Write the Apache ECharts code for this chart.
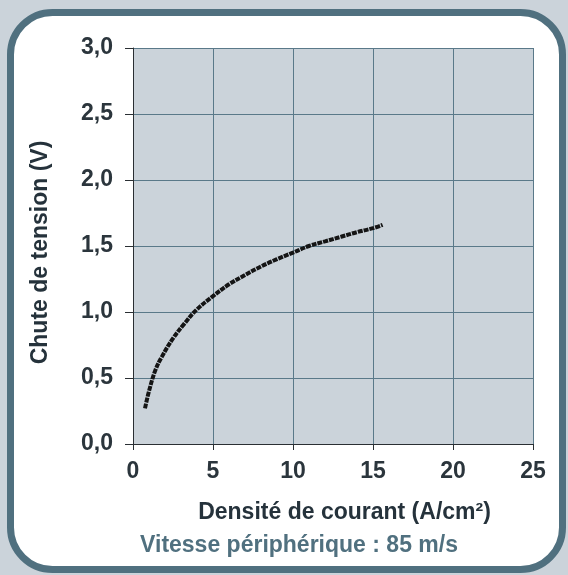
<!DOCTYPE html>
<html>
<head>
<meta charset="utf-8">
<script src="https://cdn.jsdelivr.net/npm/echarts@6/dist/echarts.min.js"></script>
<style>html,body{margin:0;padding:0;background:#cbd3da;}#c{width:568px;height:575px;}</style>
</head>
<body>
<div id="c"></div>
<script>
var densite = [0.75, 1.0, 1.4, 1.8, 2.5, 3.2, 4.0, 5.0, 6.0, 7.0, 8.0, 9.0, 10.0, 11.0, 12.0, 13.0, 14.0, 15.0, 15.6];
var chute   = [0.27, 0.40, 0.56, 0.66, 0.80, 0.91, 1.02, 1.12, 1.21, 1.28, 1.345, 1.40, 1.45, 1.50, 1.535, 1.57, 1.605, 1.635, 1.66];
var xTitle = 'Densité de courant (A/cm²)';
var yTitle = 'Chute de tension (V)';
var subTitle = 'Vitesse périphérique : 85 m/s';

var pts = densite.map(function (x, i) { return [x, chute[i]]; });
var font = 'Liberation Sans, Arial, sans-serif';
var chart = echarts.init(document.getElementById('c'));
chart.setOption({
  backgroundColor: '#cbd3da',
  animation: false,
  graphic: [
    {type: 'rect', z: -10, shape: {x: 10.5, y: 12.5, width: 552, height: 557, r: 42},
     style: {fill: '#ffffff', stroke: '#50707f', lineWidth: 7}},
    {type: 'text', x: 299, y: 546, z: 10,
     style: {text: subTitle, fill: '#50707f', font: 'bold 23px ' + font, textAlign: 'center', textVerticalAlign: 'middle'}}
  ],
  grid: {left: 133, right: 35, top: 48, bottom: 131, show: true, backgroundColor: '#cbd3da', borderWidth: 0},
  xAxis: {
    type: 'value', min: 0, max: 25, interval: 5,
    name: xTitle, nameLocation: 'middle', nameGap: 57,
    nameTextStyle: {fontFamily: font, fontWeight: 'bold', fontSize: 23, color: '#25323b', padding: [0, 0, 0, 23]},
    axisLine: {show: true, lineStyle: {color: '#2a2f33', width: 1}},
    axisTick: {show: true, length: 6, lineStyle: {color: '#2a2f33'}},
    axisLabel: {fontFamily: font, fontWeight: 'bold', fontSize: 23, color: '#2b353c', margin: 16},
    splitLine: {show: true, lineStyle: {color: '#5a7989', width: 1}}
  },
  yAxis: {
    type: 'value', min: 0, max: 3, interval: 0.5,
    name: yTitle, nameLocation: 'middle', nameGap: 81, nameRotate: 90,
    nameTextStyle: {fontFamily: font, fontWeight: 'bold', fontSize: 23, color: '#25323b', padding: [0, 13, 0, 0]},
    axisLine: {show: true, lineStyle: {color: '#2a2f33', width: 1}},
    axisTick: {show: true, length: 8, lineStyle: {color: '#2a2f33'}},
    axisLabel: {fontFamily: font, fontWeight: 'bold', fontSize: 23, color: '#2b353c', margin: 20,
      formatter: function (v) { return v.toFixed(1).replace('.', ','); }},
    splitLine: {show: true, lineStyle: {color: '#5a7989', width: 1}}
  },
  series: [{
    type: 'line', data: pts, smooth: 0.4, showSymbol: false,
    lineStyle: {color: '#151515', width: 4, type: [5, 1], cap: 'butt'}
  }]
});
</script>
</body>
</html>
